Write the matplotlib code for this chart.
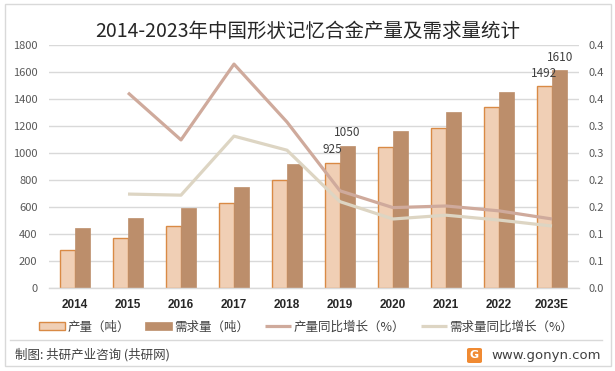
import matplotlib
matplotlib.use("Agg")
import matplotlib.pyplot as plt
import numpy as np
from matplotlib.patches import Rectangle, FancyBboxPatch
from matplotlib.lines import Line2D

plt.rcParams['font.family'] = ['Noto Sans CJK SC', 'DejaVu Sans']

years = ['2014', '2015', '2016', '2017', '2018', '2019', '2020', '2021', '2022', '2023E']
output = [281, 369, 458, 628, 798, 925, 1041, 1182, 1339, 1492]
demand = [443, 517, 594, 749, 919, 1050, 1162, 1302, 1448, 1610]
# growth starts in 2015
output_growth = [None, 0.361, 0.274, 0.414, 0.307, 0.180, 0.149, 0.152, 0.143, 0.128]
demand_growth = [None, 0.174, 0.172, 0.281, 0.255, 0.160, 0.128, 0.135, 0.126, 0.115]
right_ticks = [0, 0.05, 0.10, 0.15, 0.20, 0.25, 0.30, 0.35, 0.40, 0.45]
right_labels = ['0.0', '0.1', '0.1', '0.2', '0.2', '0.3', '0.3', '0.4', '0.4', '0.4']
labelled = {5: (925, 1050), 9: (1492, 1610)}

c_out = '#F0CFB5'
c_out_edge = '#D98A45'
c_dem = '#BC8E6B'
c_out_line = '#CFAA9C'
c_dem_line = '#DDD5C3'
grid_c = '#D9D9D9'
txt_c = '#595959'

fig = plt.figure(figsize=(6.15, 3.71), dpi=100)
ax = fig.add_axes([48.5 / 615, 1 - 288.3 / 371, 530 / 615, 243.7 / 371])

x = np.arange(len(years))
w = 0.29
ax.bar(x - w / 2, output, w, color=c_out, edgecolor=c_out_edge, linewidth=1.0,
       label='产量（吨）', zorder=2)
ax.bar(x + w / 2, demand, w, color=c_dem, edgecolor=c_dem, linewidth=0.5,
       label='需求量（吨）', zorder=2)

for i, (a, b) in labelled.items():
    ax.annotate(str(a), (x[i] - w / 2, a), xytext=(0, 9.5), textcoords='offset points',
                ha='center', va='center', fontsize=8.5, color='#404040')
    ax.annotate(str(b), (x[i] + w / 2, b), xytext=(0, 9.5), textcoords='offset points',
                ha='center', va='center', fontsize=8.5, color='#404040')

ax.set_xlim(-0.5, len(years) - 0.5)
ax.set_ylim(0, 1800)
ax.set_yticks(range(0, 1801, 200))
ax.yaxis.grid(True, color=grid_c, linewidth=1.0, zorder=0)
ax.set_axisbelow(True)
for s in ['left', 'right', 'top']:
    ax.spines[s].set_visible(False)
ax.spines['bottom'].set_color(grid_c)
ax.spines['bottom'].set_linewidth(1.0)
ax.set_xticks(x)
ax.set_xticklabels(years, fontweight='bold', fontsize=8.5, color='#262626',
                   family=['Liberation Sans', 'DejaVu Sans'])
ax.tick_params(axis='x', length=0, pad=8)
ax.tick_params(axis='y', length=0, pad=8, labelsize=8, labelcolor=txt_c)

ax2 = ax.twinx()
xs = x[1:]
ax2.plot(xs, output_growth[1:], color=c_out_line, linewidth=2.3,
         label='产量同比增长（%）', solid_capstyle='butt', zorder=3)
ax2.plot(xs, demand_growth[1:], color=c_dem_line, linewidth=2.3,
         label='需求量同比增长（%）', solid_capstyle='butt', zorder=3)
ax2.set_ylim(0, 0.45)
ax2.set_yticks(right_ticks)
ax2.set_yticklabels(right_labels)
ax2.tick_params(axis='y', length=0, pad=7, labelsize=8, labelcolor=txt_c)
for s in ['left', 'right', 'top', 'bottom']:
    ax2.spines[s].set_visible(False)

fig.text(0.5, 1 - 31.5 / 371, '2014-2023年中国形状记忆合金产量及需求量统计',
         ha='center', va='center', fontsize=14, color='#262626')

h1, l1 = ax.get_legend_handles_labels()
h2, l2 = ax2.get_legend_handles_labels()
fig.legend(h1 + h2, l1 + l2, loc='center', bbox_to_anchor=(306 / 615, 1 - 327 / 371),
           ncol=4, frameon=False, fontsize=9, handlelength=2.1, handleheight=0.65,
           handletextpad=0.2, columnspacing=1.25, borderpad=0, labelcolor='#404040')

# frame, separator and footer
fig.add_artist(Rectangle((5 / 615, 1 - 366 / 371), 606 / 615, 362 / 371,
                         transform=fig.transFigure, fill=False, edgecolor=grid_c, lw=1))
fig.add_artist(Line2D([10 / 615, 602 / 615], [1 - 340 / 371] * 2,
                      transform=fig.transFigure, color=grid_c, lw=1))
fig.text(15 / 615, 1 - 355 / 371, '制图: 共研产业咨询 (共研网)', ha='left', va='center',
         fontsize=9, color='#404040')
fig.add_artist(FancyBboxPatch((467 / 615, 1 - 363 / 371), 15 / 615, 15 / 371,
                              boxstyle='round,pad=0,rounding_size=0.004',
                              transform=fig.transFigure, facecolor='#F08A32', edgecolor='none'))
fig.text(474.5 / 615, 1 - 355.5 / 371, 'G', ha='center', va='center', fontsize=8,
         fontweight='bold', color='white', family=['DejaVu Sans'])
fig.text(491 / 615, 1 - 355 / 371, 'www.gonyn.com', ha='left', va='center',
         fontsize=9.5, color='#404040', family=['DejaVu Sans'])

fig.savefig('out.png', dpi=100)
